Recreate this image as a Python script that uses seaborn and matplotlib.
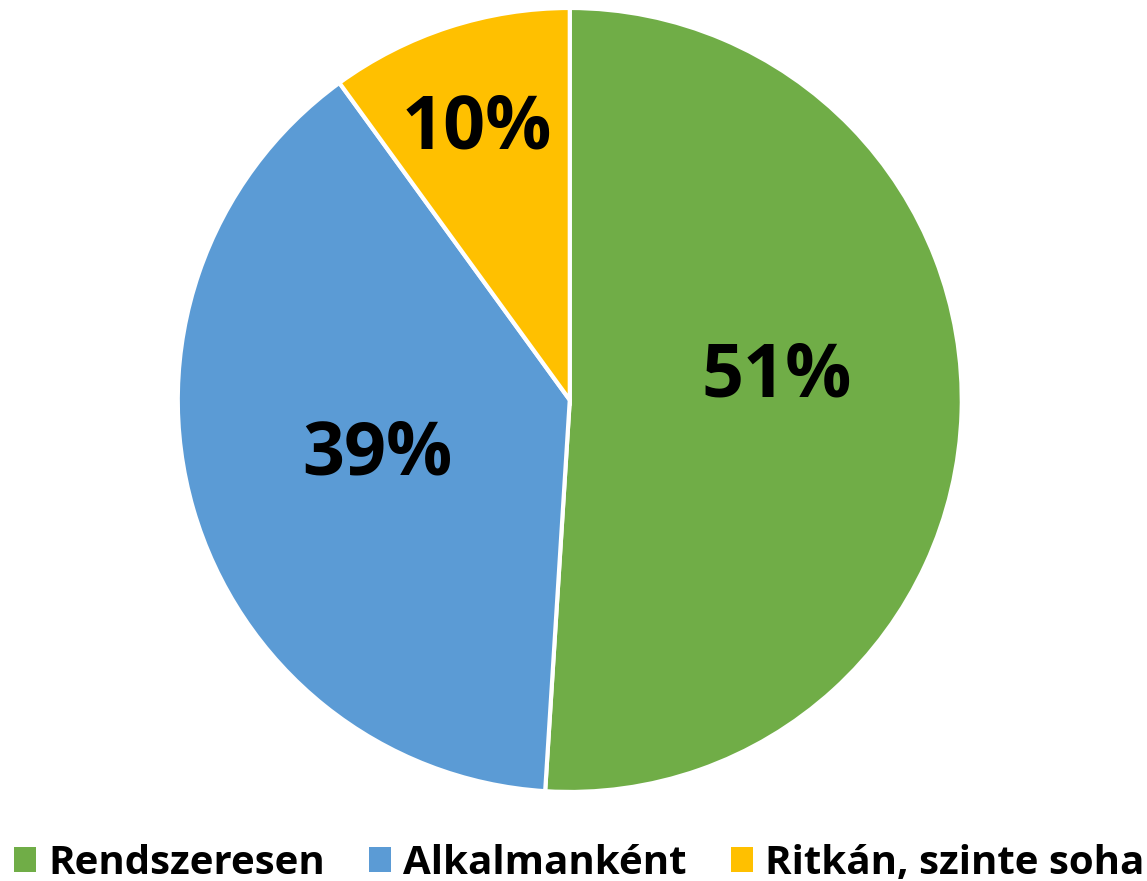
import matplotlib
matplotlib.use("Agg")
import matplotlib.pyplot as plt
import seaborn as sns
import numpy as np
from matplotlib.patches import Patch

# adatok
categories = ["Rendszeresen", "Alkalmanként", "Ritkán, szinte soha"]
shares = [51, 39, 10]
colors = ["#70AD47", "#5B9BD5", "#FFC000"]
label_dist = [0.53, 0.51, 0.73]
label_shift = [8, 0, 1]  # fok

sns.set_theme(style="white")
plt.rcParams['font.family'] = ['Open Sans', 'DejaVu Sans']

fig = plt.figure(figsize=(11.47, 8.81), dpi=100)
ax = fig.add_axes([0.155, 0.101, 0.6835, 0.89])

wedges, texts, autotexts = ax.pie(
    shares, colors=colors, startangle=90, counterclock=False,
    autopct='%d%%', pctdistance=0.55,
    wedgeprops=dict(edgecolor='white', linewidth=3),
    textprops=dict(fontsize=53, fontweight='bold', color='black'))

for w, t, d, s in zip(wedges, autotexts, label_dist, label_shift):
    ang = np.deg2rad((w.theta1 + w.theta2) / 2 + s)
    t.set_position((d * np.cos(ang), d * np.sin(ang)))

ax.set_xlim(-1, 1)
ax.set_ylim(-1, 1)
ax.set_aspect('equal')
ax.axis('off')

handles = [Patch(facecolor=c, edgecolor='none') for c in colors]
leg = fig.legend(handles, categories, loc='lower center', ncol=3, frameon=False,
                 bbox_to_anchor=(0.505, -0.043), handlelength=0.55, handleheight=0.55,
                 columnspacing=1.1, handletextpad=0.3,
                 prop=dict(size=29, weight='bold'))
for t in leg.get_texts():
    t.set_color('black')

fig.savefig('out.png', dpi=100)
